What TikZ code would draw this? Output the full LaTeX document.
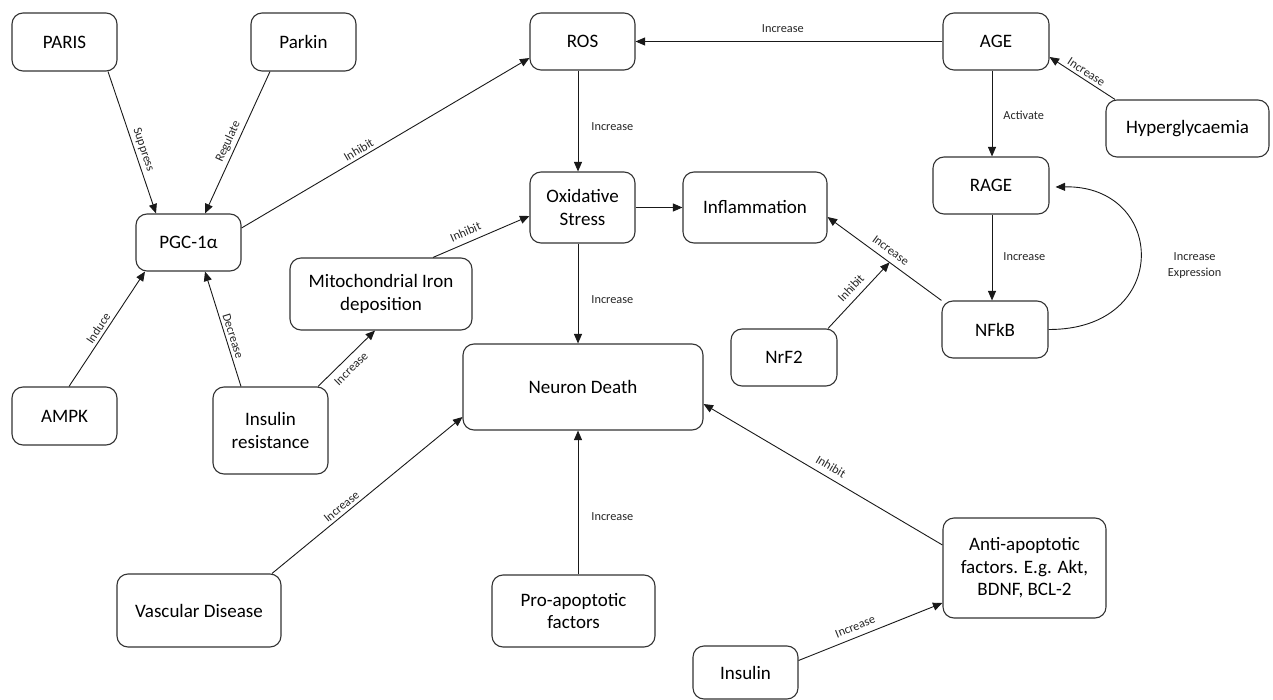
\documentclass[tikz,border=0pt]{standalone}
\usepackage{fontspec}
\setmainfont{Carlito}
\usetikzlibrary{arrows.meta,calc}
\newcommand{\boxfont}{\fontsize{19pt}{22.5pt}\selectfont}
\newcommand{\labfont}{\fontsize{12.3pt}{16pt}\selectfont}
\begin{document}
\begin{tikzpicture}[x=1pt,y=-1pt,
  bx/.style={draw=black!80, line width=1.1pt, rounded corners=11pt, align=center, font=\boxfont, inner sep=0pt},
  arr/.style={-{Triangle[length=9.5pt,width=8pt]}, line width=0.9pt, draw=black!90},
  lab/.style={font=\labfont, text=black!85, inner sep=3pt},
  farlab/.style={lab, inner sep=6pt},
  sidelab/.style={font=\labfont, text=black!85, inner sep=0pt, anchor=west},
]
\useasboundingbox (0,0) rectangle (1273,700);

% nodes
\node[bx, minimum width=105pt, minimum height=58pt] (paris) at (64.5,42) {PARIS};
\node[bx, minimum width=105pt, minimum height=58pt] (parkin) at (303.5,42) {Parkin};
\node[bx, minimum width=105pt, minimum height=57pt] (pgc) at (188.5,242.5) {PGC-1α};
\node[bx, minimum width=105pt, minimum height=57pt] (ros) at (582.5,41.5) {ROS};
\node[bx, minimum width=106pt, minimum height=57pt] (age) at (996,41.5) {AGE};
\node[bx, minimum width=163pt, minimum height=57pt] (hyper) at (1187.5,128.5) {Hyperglycaemia};
\node[bx, minimum width=116pt, minimum height=57pt] (rage) at (991,185.5) {RAGE};
\node[bx, minimum width=105pt, minimum height=71pt] (oxs) at (582.5,207.5) {Oxidative\\Stress};
\node[bx, minimum width=144pt, minimum height=71pt] (inflam) at (755,207.5) {Inflammation};
\node[bx, minimum width=106pt, minimum height=57pt] (nfkb) at (995,329.5) {NFkB};
\node[bx, minimum width=106pt, minimum height=57pt] (nrf2) at (784,357.5) {NrF2};
\node[bx, minimum width=182pt, minimum height=72pt] (mito) at (381,294) {Mitochondrial Iron\\deposition};
\node[bx, minimum width=105pt, minimum height=58pt] (ampk) at (64.5,416) {AMPK};
\node[bx, minimum width=115pt, minimum height=87pt] (ir) at (270.5,430.5) {Insulin\\resistance};
\node[bx, minimum width=240pt, minimum height=86pt] (nd) at (583,387) {Neuron Death};
\node[bx, minimum width=164pt, minimum height=73pt] (vasc) at (199,610.5) {Vascular Disease};
\node[bx, minimum width=163pt, minimum height=72pt] (pro) at (573.5,611) {Pro-apoptotic\\factors};
\node[bx, minimum width=163pt, minimum height=100pt] (anti) at (1024.5,568) {Anti-apoptotic\\factors. E.g. Akt,\\BDNF, BCL-2};
\node[bx, minimum width=105pt, minimum height=53pt] (insulin) at (745.5,672.5) {Insulin};

% connectors
\draw[arr] ([xshift=43.5pt]paris.south) -- ([xshift=-32.5pt]pgc.north)
  node[lab, sloped, above, pos=0.57] {Suppress};
\draw[arr] ([xshift=-33.5pt]parkin.south) -- ([xshift=16.5pt]pgc.north)
  node[lab, sloped, above, pos=0.52] {Regulate};
\draw[arr] ([yshift=14.5pt]pgc.east) -- ([yshift=-16.5pt]ros.west)
  node[lab, sloped, above, pos=0.42] {Inhibit};
\draw[arr] (age.west) -- (ros.east)
  node[lab, above, pos=0.52, yshift=5pt] {Increase};
\draw[arr] ([xshift=-72.5pt]hyper.north) -- ([yshift=-15.5pt]age.east)
  node[lab, sloped, above, pos=0.5] {Increase};
\draw[arr] ([xshift=-4pt]age.south) -- ([xshift=1pt]rage.north)
  node[sidelab, pos=0.52, xshift=11pt] {Activate};
\draw[arr] ([xshift=1pt]rage.south) -- ([xshift=-3pt]nfkb.north)
  node[sidelab, pos=0.49, xshift=11pt] {Increase};
\draw[arr] (nfkb.east) .. controls (1172,330) and (1167,185) .. ([xshift=6pt,yshift=-1.5pt]rage.east)
  node[font=\labfont, text=black!85, align=center, pos=0.5, anchor=west, xshift=24pt, yshift=-8pt] {Increase\\Expression};
\draw[arr] ([xshift=-4.5pt]ros.south) -- ([xshift=-4.5pt]oxs.north)
  node[sidelab, pos=0.56, xshift=13pt] {Increase};
\draw[arr] (oxs.east) -- (inflam.west);
\draw[arr] ([xshift=-4.5pt]oxs.south) -- ([xshift=-5pt]nd.north)
  node[sidelab, pos=0.56, xshift=13pt] {Increase};
\draw[arr] (nfkb.north west) -- coordinate[pos=0.456] (jn) ([yshift=-9.5pt]inflam.east)
  node[farlab, sloped, above, pos=0.5] {Increase};
\draw[arr] ([xshift=44pt]nrf2.north) -- (jn)
  node[farlab, sloped, above, pos=0.5] {Inhibit};
\draw[arr] ([xshift=52pt]mito.north) -- ([yshift=-8.5pt]oxs.west)
  node[farlab, sloped, above, pos=0.38] {Inhibit};
\draw[arr] ([xshift=47.5pt]ir.north) -- ([xshift=-6pt]mito.south)
  node[farlab, sloped, below, pos=0.45] {Increase};
\draw[arr] ([xshift=-29.5pt]ir.north) -- ([xshift=16.5pt]pgc.south)
  node[lab, sloped, above, pos=0.42] {Decrease};
\draw[arr] ([xshift=4.5pt]ampk.north) -- ([xshift=-43.5pt]pgc.south)
  node[lab, sloped, above, pos=0.47] {Induce};
\draw[arr] ([xshift=73pt]vasc.north) -- ([yshift=-30pt]nd.west)
  node[lab, sloped, above, pos=0.39] {Increase};
\draw[arr] ([xshift=4.5pt]pro.north) -- ([xshift=-5pt]nd.south)
  node[sidelab, pos=0.4, xshift=13pt] {Increase};
\draw[arr] ([yshift=23pt]anti.west) -- ([yshift=-17pt]nd.east)
  node[farlab, sloped, above, pos=0.49] {Inhibit};
\draw[arr] ([yshift=12pt]insulin.east) -- ([yshift=-35pt]anti.west)
  node[farlab, sloped, above, pos=0.42] {Increase};
\end{tikzpicture}
\end{document}
